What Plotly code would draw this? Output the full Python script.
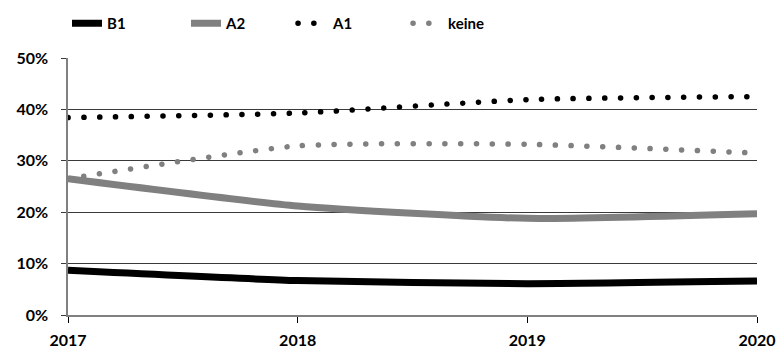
import plotly.graph_objects as go

# Share of each level per year
years = [2017, 2018, 2019, 2020]
b1 = [8.7, 6.7, 6.1, 6.6]
a2 = [26.5, 21.2, 18.8, 19.7]
a1 = [38.4, 39.3, 41.9, 42.5]
keine = [26.5, 32.9, 33.2, 31.5]

y_ticks = [0, 10, 20, 30, 40, 50]
y_labels = ["0%", "10%", "20%", "30%", "40%", "50%"]

BLACK = "#000000"
GRAY = "#808080"
FONT = "Lato"

fig = go.Figure()

# name, values, colour, dash, width, legend id, legend x (px)
series = [
    ("B1", b1, BLACK, "solid", 7, "legend", 67),
    ("A2", a2, GRAY, "solid", 7, "legend2", 186),
    ("A1", a1, BLACK, "5px,11px", 5.5, "legend3", 293),
    ("keine", keine, GRAY, "5px,11px", 5.5, "legend4", 408),
]
legends = {}
for name, vals, color, dash, width, leg, lx in series:
    fig.add_trace(go.Scatter(
        x=years, y=vals, name=name, mode="lines", legend=leg,
        line=dict(color=color, width=width, dash=dash, shape="spline", smoothing=0.55),
        hoverinfo="skip",
    ))
    legends[leg] = dict(
        orientation="h", xref="container", yref="container",
        x=lx / 780, y=1 - 7 / 354, xanchor="left", yanchor="top",
        font=dict(family=FONT, size=15, color="#000000", weight="bold"),
        itemclick=False, itemdoubleclick=False,
        bgcolor="rgba(0,0,0,0)",
    )

fig.update_layout(
    width=780, height=354,
    margin=dict(l=68, r=23, t=58, b=39, autoexpand=False),
    paper_bgcolor="white", plot_bgcolor="white",
    font=dict(family=FONT, size=16, color="#000000"),
    showlegend=True,
    **legends,
)

fig.update_xaxes(
    range=[2017, 2020], tickvals=years, ticktext=[str(y) for y in years],
    showgrid=False, zeroline=False, automargin=False,
    showline=True, linecolor="#808080", linewidth=1.5,
    ticks="outside", ticklen=6, tickcolor="#000000", tickwidth=1,
    ticklabelstandoff=4,
    tickfont=dict(family=FONT, size=16, weight="bold"),
    fixedrange=True,
)
fig.update_yaxes(
    range=[0, 50], tickvals=y_ticks, ticktext=y_labels,
    showgrid=True, gridcolor="#3a3a3a", gridwidth=1,
    zeroline=False, automargin=False,
    showline=True, linecolor="#808080", linewidth=1.5,
    ticks="outside", ticklen=5, tickcolor="#3a3a3a", tickwidth=1,
    ticklabelstandoff=10,
    tickfont=dict(family=FONT, size=16, weight="bold"),
    fixedrange=True,
)

# Round caps turn the dashed strokes into dotted lines
post = """
var gd = document.getElementById('{plot_id}');
function roundDots() {
  gd.querySelectorAll('path.js-line').forEach(function (p) {
    var d = p.style.strokeDasharray;
    if (d && d !== 'none') {
      p.style.strokeLinecap = 'round';
      p.style.strokeDasharray = '0.1px,15.7px';
    }
  });
}
roundDots();
gd.on('plotly_afterplot', roundDots);
"""

fig.write_html("out.html", post_script=post, config={"displayModeBar": False})
